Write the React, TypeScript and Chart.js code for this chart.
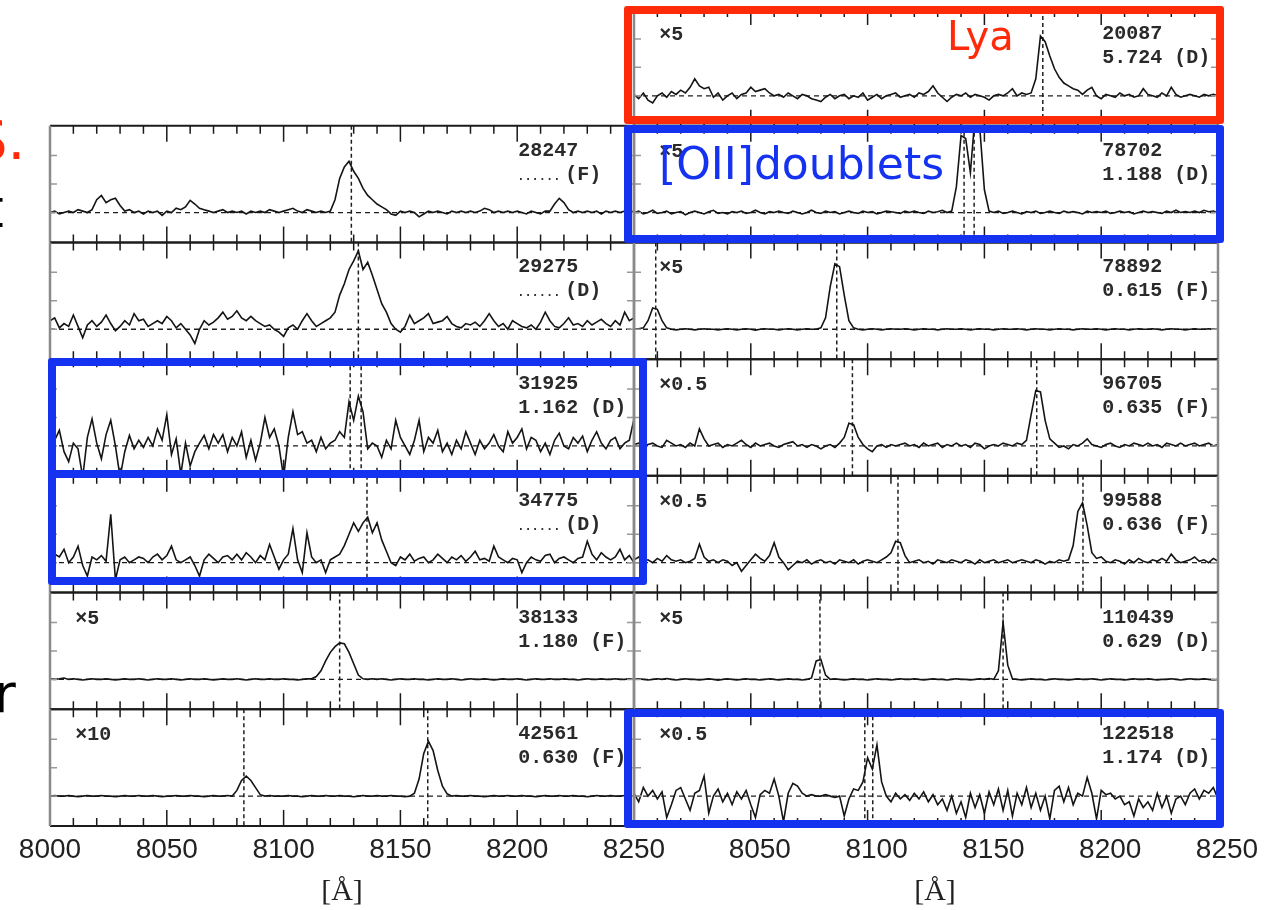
import React, { useEffect, useRef } from "react";
import { Chart, registerables } from "chart.js";

Chart.register(...registerables);

// Wavelength sampling of every spectrum (Angstrom)
const WAVELENGTH = [
  8000, 8002, 8004, 8006, 8008, 8010, 8012, 8014, 8016, 8018,
  8020, 8022, 8024, 8026, 8028, 8030, 8032, 8034, 8036, 8038,
  8040, 8042, 8044, 8046, 8048, 8050, 8052, 8054, 8056, 8058,
  8060, 8062, 8064, 8066, 8068, 8070, 8072, 8074, 8076, 8078,
  8080, 8082, 8084, 8086, 8088, 8090, 8092, 8094, 8096, 8098,
  8100, 8102, 8104, 8106, 8108, 8110, 8112, 8114, 8116, 8118,
  8120, 8122, 8124, 8126, 8128, 8130, 8132, 8134, 8136, 8138,
  8140, 8142, 8144, 8146, 8148, 8150, 8152, 8154, 8156, 8158,
  8160, 8162, 8164, 8166, 8168, 8170, 8172, 8174, 8176, 8178,
  8180, 8182, 8184, 8186, 8188, 8190, 8192, 8194, 8196, 8198,
  8200, 8202, 8204, 8206, 8208, 8210, 8212, 8214, 8216, 8218,
  8220, 8222, 8224, 8226, 8228, 8230, 8232, 8234, 8236, 8238,
  8240, 8242, 8244, 8246, 8248, 8250,
];

// Flux (arbitrary units, baseline = 0), one array per object
const FLUX_20087 = [
  0.05, -0.1, 0.1, -0.15, -0.25, 0.0, 0.1, -0.05, 0.15, 0.05,
  0.2, 0.1, 0.3, 0.6, 0.35, 0.25, 0.3, -0.05, 0.1, -0.15,
  0.0, 0.1, -0.1, 0.05, 0.1, 0.3, 0.15, 0.2, 0.25, 0.1,
  0.0, 0.05, -0.05, 0.1, 0.0, -0.1, 0.05, 0.0, -0.1, -0.15,
  -0.2, -0.05, 0.05, -0.1, 0.0, 0.05, -0.1, 0.0, -0.05, 0.1,
  -0.15, -0.05, 0.05, -0.1, 0.0, 0.05, 0.1, -0.05, 0.0, 0.05,
  -0.05, 0.1, 0.05, 0.15, 0.35, 0.1, -0.05, -0.2, -0.05, 0.05,
  0.0, 0.1, -0.05, 0.05, 0.0, -0.05, -0.15, 0.0, 0.05, 0.0,
  0.1, 0.25, 0.0, 0.1, 0.05, 0.1, 0.6, 2.1, 1.9, 1.4,
  0.95, 0.65, 0.45, 0.35, 0.25, 0.2, 0.05, 0.2, 0.3, 0.0,
  -0.1, 0.05, 0.0, -0.05, 0.1, 0.0, 0.05, -0.05, 0.0, 0.25,
  0.05, 0.0, -0.05, 0.1, 0.0, 0.3, 0.05, -0.05, 0.0, 0.05,
  0.0, -0.05, 0.05, 0.0, 0.05, 0.0,
];

const FLUX_78702 = [
  0.0, 0.05, -0.05, 0.0, 0.08, -0.03, 0.0, 0.05, -0.05, 0.0,
  0.03, -0.08, 0.0, 0.05, 0.0, -0.05, 0.03, 0.08, -0.03, 0.0,
  -0.05, 0.03, 0.0, 0.05, -0.03, 0.0, 0.08, 0.0, -0.05, 0.03,
  0.0, 0.05, 0.0, -0.03, 0.05, 0.0, -0.05, 0.0, 0.08, 0.0,
  -0.03, 0.05, 0.0, 0.03, -0.05, 0.0, 0.05, 0.0, -0.03, 0.05,
  0.0, 0.03, -0.05, 0.0, 0.05, 0.03, 0.0, -0.03, 0.05, 0.0,
  0.05, 0.0, -0.03, 0.05, 0.0, 0.03, 0.08, 0.0, 0.05, 0.9,
  2.7, 2.6, 1.4, 3.4, 3.0, 0.8, 0.05, 0.0, 0.05, -0.03,
  0.0, 0.05, 0.0, -0.05, 0.03, 0.0, 0.05, -0.03, 0.0, 0.05,
  0.0, -0.03, 0.05, 0.0, 0.03, 0.0, -0.05, 0.05, 0.0, 0.03,
  0.0, 0.05, -0.03, 0.0, 0.05, 0.0, 0.03, -0.05, 0.0, 0.05,
  0.0, 0.03, 0.0, -0.03, 0.05, 0.0, 0.08, 0.0, 0.03, 0.0,
  0.05, 0.0, 0.08, 0.03, 0.05, 0.0,
];

const FLUX_78892 = [
  0.0, 0.02, 0.05, 0.3, 0.75, 0.7, 0.3, 0.05, 0.0, -0.02,
  0.0, 0.02, 0.0, -0.02, 0.0, 0.02, 0.0, 0.0, -0.02, 0.0,
  0.02, 0.0, -0.02, 0.0, 0.02, 0.0, -0.03, 0.0, 0.02, 0.0,
  0.0, -0.02, 0.0, 0.02, 0.0, -0.02, 0.0, 0.02, 0.0, 0.0,
  0.05, 0.4, 1.5, 2.3, 2.2, 1.2, 0.3, 0.05, 0.0, -0.02,
  0.0, 0.02, 0.0, -0.02, 0.0, 0.02, 0.0, 0.0, 0.02, 0.0,
  -0.02, 0.0, 0.02, 0.0, 0.0, -0.02, 0.0, 0.02, 0.0, 0.0,
  0.02, 0.0, -0.02, 0.0, 0.02, 0.0, 0.0, -0.02, 0.0, 0.02,
  0.0, 0.0, 0.02, 0.0, -0.02, 0.0, 0.02, 0.0, 0.0, -0.02,
  0.0, 0.02, 0.0, 0.0, -0.02, 0.0, 0.02, 0.0, 0.0, 0.02,
  0.0, -0.02, 0.0, 0.02, 0.0, 0.0, -0.02, 0.0, 0.02, 0.0,
  0.0, 0.02, 0.0, -0.02, 0.0, 0.02, 0.0, 0.0, -0.02, 0.0,
  0.02, 0.0, 0.0, 0.02, 0.0, 0.0,
];

const FLUX_96705 = [
  0.05, 0.1, 0.0, 0.05, 0.1, 0.0, -0.05, 0.2, 0.1, 0.0,
  0.05, -0.05, 0.1, 0.0, 0.6, 0.25, 0.0, 0.05, 0.1, -0.05,
  0.05, 0.0, 0.1, 0.2, 0.05, -0.05, 0.1, 0.0, 0.05, 0.1,
  0.0, -0.05, 0.05, 0.1, 0.15, 0.0, 0.05, -0.05, 0.05, 0.0,
  -0.1, 0.0, 0.05, -0.05, 0.1, 0.3, 0.8, 0.75, 0.3, 0.05,
  -0.1, -0.2, 0.0, 0.05, -0.05, 0.05, 0.0, 0.05, 0.1, 0.0,
  0.05, -0.05, 0.1, 0.0, 0.05, 0.1, -0.05, 0.05, 0.0, 0.1,
  0.0, 0.05, -0.05, 0.1, 0.05, -0.1, 0.0, 0.05, 0.0, 0.1,
  0.05, 0.0, 0.1, 0.05, 0.2, 1.1, 1.95, 1.9, 0.9, 0.25,
  0.1, -0.05, 0.0, -0.1, 0.05, 0.0, 0.1, 0.25, 0.05, 0.0,
  -0.05, 0.05, 0.1, 0.0, -0.05, 0.05, 0.0, 0.1, 0.05, 0.0,
  0.1, 0.0, 0.05, -0.05, 0.1, 0.05, 0.0, 0.1, 0.0, 0.05,
  0.1, 0.0, 0.05, 0.1, 0.0, 0.05,
];

const FLUX_99588 = [
  0.1, 0.2, 0.05, 0.1, 0.0, 0.15, 0.05, 0.25, 0.1, 0.05,
  0.1, 0.0, 0.05, 0.15, 0.65, 0.2, 0.05, 0.1, 0.0, 0.1,
  0.05, -0.1, 0.0, -0.3, -0.1, 0.1, 0.3, 0.15, 0.05, 0.25,
  0.7, 0.2, 0.0, -0.25, -0.1, 0.05, 0.0, 0.1, -0.05, 0.05,
  0.1, 0.0, 0.05, -0.05, 0.1, 0.05, 0.0, 0.1, -0.05, 0.05,
  0.1, 0.05, 0.0, 0.1, 0.2, 0.35, 0.75, 0.7, 0.25, 0.0,
  0.05, 0.1, 0.0, 0.05, -0.05, 0.1, 0.05, 0.0, 0.1, 0.05,
  0.0, 0.1, 0.05, -0.05, 0.1, 0.0, 0.05, 0.1, 0.0, 0.05,
  0.1, 0.0, 0.05, 0.1, 0.05, 0.0, 0.1, 0.05, -0.05, 0.05,
  0.0, 0.1, 0.05, 0.1, 0.6, 1.8, 2.1, 1.3, 0.35, 0.15,
  0.2, 0.05, 0.0, 0.1, 0.05, -0.05, 0.1, 0.0, 0.15, 0.05,
  0.0, 0.1, 0.05, 0.15, 0.05, 0.3, 0.1, 0.0, 0.05, 0.1,
  0.2, 0.05, 0.1, 0.0, 0.15, 0.05,
];

const FLUX_110439 = [
  0.0, 0.02, 0.0, -0.02, 0.0, 0.02, 0.0, 0.03, 0.0, -0.02,
  0.0, 0.02, 0.0, 0.0, -0.02, 0.0, 0.02, 0.0, -0.03, 0.0,
  0.02, 0.0, -0.02, 0.0, 0.02, 0.0, 0.0, -0.02, 0.0, 0.02,
  0.0, -0.02, 0.0, 0.02, 0.0, 0.0, -0.02, 0.0, 0.05, 0.65,
  0.7, 0.15, 0.0, 0.02, 0.0, -0.02, 0.0, 0.02, 0.0, 0.0,
  -0.02, 0.0, 0.02, 0.0, 0.0, -0.02, 0.0, 0.02, 0.0, 0.0,
  0.02, 0.0, -0.02, 0.0, 0.02, 0.0, 0.0, -0.02, 0.0, 0.02,
  0.0, 0.0, -0.02, 0.0, 0.02, 0.0, 0.03, 0.0, 0.3, 2.0,
  0.5, 0.02, 0.0, -0.02, 0.0, 0.02, 0.0, 0.0, -0.02, 0.0,
  0.02, 0.0, 0.0, -0.02, 0.0, 0.02, 0.0, 0.0, 0.02, 0.0,
  -0.02, 0.0, 0.02, 0.0, 0.0, -0.02, 0.0, 0.02, 0.0, 0.0,
  0.02, 0.0, -0.02, 0.0, 0.0, 0.02, 0.0, -0.02, 0.0, 0.02,
  0.0, 0.0, 0.02, 0.0, -0.02, 0.0,
];

const FLUX_122518 = [
  0.1, -0.2, 0.3, 0.0, 0.2, -0.1, 0.15, -0.75, -0.3, 0.2,
  0.3, -0.1, -0.5, 0.1, 0.2, 0.7, -0.6, 0.0, 0.25, -0.2,
  0.1, -0.3, 0.15, -0.1, 0.2, -0.3, -0.75, 0.05, 0.2, 0.1,
  0.6, 0.0, -0.9, 0.1, 0.45, 0.35, 0.1, 0.0, 0.05, 0.0,
  0.0, 0.05, 0.0, -0.05, 0.0, -0.7, -0.1, 0.25, 0.2, 0.5,
  1.35, 0.95, 1.8, 0.5, 0.0, -0.2, 0.1, -0.1, 0.05, -0.15,
  0.1, -0.1, 0.15, -0.2, 0.05, -0.3, -0.1, -0.5, 0.0, -0.6,
  -0.2, -0.75, 0.1, -0.4, 0.05, -0.6, 0.15, -0.3, 0.25, -0.5,
  0.2, -0.7, 0.1, -0.3, 0.3, -0.4, 0.1, -0.5, 0.0, -0.8,
  0.2, 0.35, -0.2, 0.3, -0.3, 0.1, 0.0, 0.65, 0.1, -0.8,
  0.2, 0.05, 0.1, -0.1, 0.0, -0.3, -0.2, -0.7, -0.1, -0.4,
  -0.2, -0.5, 0.1, -0.4, 0.0, -0.6, -0.1, 0.0, -0.3, 0.1,
  0.25, -0.1, 0.2, 0.1, 0.3, -0.1,
];

const FLUX_28247 = [
  0.0, 0.05, -0.05, 0.0, 0.05, 0.0, 0.1, 0.05, 0.0, 0.1,
  0.45, 0.6, 0.35, 0.45, 0.5, 0.25, 0.05, 0.1, 0.0, 0.05,
  -0.05, 0.05, 0.0, 0.05, -0.1, 0.05, 0.0, 0.15, 0.1, 0.2,
  0.43, 0.3, 0.15, 0.1, 0.05, 0.0, 0.05, 0.1, 0.0, 0.05,
  0.0, 0.05, -0.05, 0.05, 0.0, 0.05, 0.0, 0.1, 0.05, 0.0,
  0.05, 0.1, 0.15, 0.05, 0.0, 0.1, 0.05, 0.0, 0.05, 0.0,
  0.05, 0.45, 1.2, 1.6, 1.8, 1.45, 1.2, 0.85, 0.6, 0.45,
  0.3, 0.2, 0.1, -0.05, -0.1, 0.05, 0.0, 0.05, 0.0, -0.15,
  -0.05, 0.05, 0.0, 0.05, 0.0, -0.05, 0.05, 0.0, 0.05, 0.0,
  0.05, 0.0, 0.05, 0.15, 0.1, 0.0, 0.05, 0.0, 0.05, 0.0,
  0.05, 0.0, -0.05, 0.05, 0.0, -0.05, 0.05, 0.05, 0.3, 0.5,
  0.35, 0.1, 0.0, 0.05, 0.0, 0.05, 0.0, 0.05, -0.05, 0.05,
  0.0, 0.05, 0.0, 0.05, 0.0, 0.05,
];

const FLUX_29275 = [
  0.3, 0.4, 0.05, 0.2, 0.1, 0.5, 0.1, -0.3, 0.15, 0.3,
  0.1, 0.25, 0.5, 0.2, -0.05, 0.1, 0.3, 0.15, 0.55, 0.3,
  0.35, 0.1, 0.2, 0.3, 0.2, 0.45, 0.3, 0.05, 0.2, 0.0,
  -0.2, -0.5, 0.0, 0.3, 0.15, 0.25, 0.4, 0.6, 0.35, 0.45,
  0.65, 0.4, 0.3, 0.45, 0.3, 0.2, 0.1, 0.15, 0.0, -0.1,
  -0.25, 0.05, 0.15, 0.0, 0.3, 0.55, 0.3, 0.1, 0.2, 0.3,
  0.4, 0.6, 1.2, 1.6, 2.1, 2.4, 2.75, 2.1, 2.35, 1.9,
  1.4, 0.9, 0.6, 0.2, 0.0, -0.1, 0.1, 0.5, 0.2, 0.3,
  0.4, 0.55, 0.2, 0.25, 0.3, 0.45, 0.2, 0.1, 0.05, 0.2,
  0.15, 0.25, 0.1, 0.3, 0.55, 0.3, 0.1, 0.2, 0.0, 0.3,
  0.2, 0.1, 0.05, 0.15, 0.0, 0.25, 0.6, 0.3, 0.1, 0.05,
  0.2, 0.4, 0.15, 0.2, 0.1, 0.3, 0.15, 0.25, 0.35, 0.2,
  0.1, 0.3, 0.15, 0.6, 0.3, 0.4,
];

const FLUX_31925 = [
  -0.3, 0.2, 0.55, -0.2, -0.55, 0.1, -0.1, -1.1, 0.3, 0.95,
  0.1, -0.45, 0.4, 0.9, 0.0, -1.1, -0.2, 0.37, -0.1, 0.2,
  -0.05, 0.3, 0.0, 0.6, 0.2, 1.1, -0.3, 0.25, -1.0, 0.1,
  -0.7, -0.2, 0.1, 0.37, -0.1, 0.4, 0.1, 0.4, -0.2, 0.3,
  0.0, 0.5, -0.4, 0.2, -0.5, 0.1, 1.0, 0.3, 0.6, 0.0,
  -1.1, 0.3, 1.2, 0.4, 0.5, 0.1, 0.2, -0.2, 0.3, -0.1,
  0.1, 0.2, 0.5, 0.3, 1.55, 0.9, 1.75, 1.2, -0.1, 0.1,
  0.0, -0.4, 0.2, -0.1, 0.9, 0.3, 0.0, -0.3, 0.2, 0.9,
  -0.2, 0.3, 0.1, 0.55, -0.2, 0.1, -0.3, 0.2, -0.1, 0.5,
  0.1, -0.3, 0.2, -0.1, 0.1, 0.4, 0.0, -0.2, 0.5, 0.1,
  0.3, 0.6, -0.1, 0.3, 0.2, -0.2, 0.1, -0.3, 0.2, 0.45,
  0.0, -0.1, 0.3, 0.1, 0.35, -0.2, 0.2, 0.5, 0.1, -0.1,
  0.2, 0.3, -0.1, 0.1, 0.2, 0.95,
];

const FLUX_34775 = [
  0.1, 0.3, 0.2, 0.47, 0.0, 0.2, 0.58, -0.1, -0.47, 0.2,
  0.1, 0.25, 0.05, 1.7, -0.6, 0.1, 0.2, 0.0, 0.1, 0.2,
  0.15, 0.0, 0.2, 0.3, 0.1, 0.25, 0.58, 0.1, 0.0, 0.1,
  0.2, -0.1, -0.47, 0.1, 0.3, 0.15, 0.0, 0.2, 0.25, 0.1,
  0.3, 0.1, 0.35, 0.2, 0.0, 0.25, 0.1, 0.64, 0.2, -0.23,
  0.1, 0.3, 1.2, 0.1, -0.35, 1.05, 0.2, 0.0, 0.1, -0.35,
  0.1, 0.2, 0.3, 0.6, 1.0, 1.4, 1.1, 1.4, 1.6, 1.05,
  1.4, 0.8, 0.4, 0.0, -0.1, 0.2, 0.1, 0.3, 0.05, 0.15,
  0.2, 0.0, 0.1, 0.3, 0.15, 0.0, 0.2, 0.1, 0.25, 0.05,
  0.2, 0.4, 0.1, 0.15, 0.05, 0.58, 0.2, 0.1, 0.0, 0.15,
  0.1, -0.35, 0.0, 0.2, 0.1, 0.05, 0.25, 0.3, 0.0, 0.15,
  0.2, 0.1, 0.0, 0.15, 0.2, 0.75, 0.3, 0.1, 0.35, 0.2,
  0.1, 0.2, 0.47, 0.1, 0.25, 0.0,
];

const FLUX_38133 = [
  0.02, 0.0, 0.02, 0.05, 0.0, 0.02, 0.0, -0.02, 0.0, 0.02,
  0.0, 0.0, 0.02, 0.0, -0.02, 0.0, 0.02, 0.0, 0.0, 0.02,
  0.0, -0.02, 0.0, 0.02, 0.0, 0.0, 0.02, 0.0, -0.02, 0.0,
  0.02, 0.0, 0.0, 0.02, 0.0, -0.02, 0.0, 0.02, 0.0, 0.0,
  0.02, 0.0, -0.02, 0.0, 0.02, 0.0, 0.0, 0.02, 0.0, 0.0,
  0.02, 0.0, 0.0, -0.02, 0.0, 0.02, 0.02, 0.1, 0.3, 0.65,
  0.95, 1.15, 1.28, 1.25, 0.95, 0.55, 0.15, 0.02, 0.0, 0.02,
  0.0, 0.02, 0.0, -0.02, 0.0, 0.02, 0.0, 0.0, 0.02, 0.0,
  0.0, -0.02, 0.0, 0.02, 0.0, 0.0, 0.02, 0.0, -0.02, 0.0,
  0.02, 0.0, 0.0, 0.02, 0.0, -0.02, 0.0, 0.02, 0.0, 0.0,
  0.02, 0.0, -0.02, 0.0, 0.02, 0.0, 0.0, 0.02, 0.0, 0.0,
  0.02, 0.0, 0.0, -0.02, 0.0, 0.02, 0.0, 0.0, 0.02, 0.0,
  0.0, 0.02, 0.0, 0.0, 0.02, 0.0,
];

const FLUX_42561 = [
  0.0, 0.02, 0.0, 0.0, 0.02, 0.0, -0.02, 0.0, 0.02, 0.0,
  0.0, 0.02, 0.0, 0.0, -0.02, 0.0, 0.02, 0.0, 0.0, 0.02,
  0.0, 0.0, 0.02, 0.0, -0.02, 0.0, 0.0, 0.02, 0.0, 0.0,
  0.02, 0.0, 0.0, -0.02, 0.0, 0.02, 0.0, 0.0, 0.02, 0.0,
  0.2, 0.55, 0.7, 0.55, 0.3, 0.05, 0.0, 0.02, 0.0, 0.0,
  0.0, 0.02, 0.0, 0.0, -0.02, 0.0, 0.02, 0.0, 0.0, 0.02,
  0.0, 0.0, 0.02, 0.0, 0.0, -0.02, 0.0, 0.02, 0.0, 0.0,
  0.02, 0.0, 0.0, 0.02, 0.0, 0.0, -0.02, 0.0, 0.1, 0.6,
  1.5, 1.93, 1.6, 0.9, 0.35, 0.08, 0.0, 0.02, 0.0, 0.0,
  0.02, 0.0, 0.0, -0.02, 0.0, 0.02, 0.0, 0.0, 0.02, 0.0,
  0.0, 0.02, 0.0, 0.0, -0.02, 0.0, 0.02, 0.0, 0.0, 0.02,
  0.0, 0.0, 0.02, 0.0, 0.0, -0.02, 0.0, 0.02, 0.0, 0.0,
  0.02, 0.0, 0.0, 0.02, 0.0, 0.0,
];

// Panel metadata
const PANEL_IDS = ["20087", "78702", "78892", "96705", "99588", "110439", "122518",
  "28247", "29275", "31925", "34775", "38133", "42561"];
const PANEL_Z = ["5.724 (D)", "1.188 (D)", "0.615 (F)", "0.635 (F)", "0.636 (F)", "0.629 (D)", "1.174 (D)",
  "...... (F)", "...... (D)", "1.162 (D)", "...... (D)", "1.180 (F)", "0.630 (F)"];
const PANEL_FACTOR = ["×5", "×5", "×5", "×0.5", "×0.5", "×5", "×0.5", "", "", "", "", "×5", "×10"];
const PANEL_COLUMN = [1, 1, 1, 1, 1, 1, 1, 0, 0, 0, 0, 0, 0];
const PANEL_ROW = [0, 1, 2, 3, 4, 5, 6, 1, 2, 3, 4, 5, 6];
const PANEL_LINES = [
  [8175], [8141.3, 8145.6], [8009.3, 8086.8], [8093.5, 8172.4], [8113, 8192.2], [8079.6, 8158],
  [8098.8, 8102.2], [8129], [8132], [8128.5, 8133.2], [8135.7], [8124], [8083, 8161.7],
];
const PANEL_FLUX = [FLUX_20087, FLUX_78702, FLUX_78892, FLUX_96705, FLUX_99588, FLUX_110439, FLUX_122518,
  FLUX_28247, FLUX_29275, FLUX_31925, FLUX_34775, FLUX_38133, FLUX_42561];

const X_MIN = 8000;
const X_MAX = 8250;
const Y_MIN = -1.05;
const Y_MAX = 3.05;
const X_TICKS = [8010, 8020, 8030, 8040, 8050, 8060, 8070, 8080, 8090, 8100, 8110, 8120,
  8130, 8140, 8150, 8160, 8170, 8180, 8190, 8200, 8210, 8220, 8230, 8240];
const X_MAJOR_TICKS = [8050, 8100, 8150, 8200];
const Y_TICKS = [0, 1, 2];
const LEFT_AXIS_LABELS = [8000, 8050, 8100, 8150, 8200, 8250];
const RIGHT_AXIS_LABELS = [8050, 8100, 8150, 8200, 8250];
const AXIS_TITLE = "[Å]";

const LABEL_FONT = 'bold 20px "Liberation Mono"';
const INK = "#141414";

function panelScales(chart: any, i: number) {
  const xs = chart.scales[PANEL_COLUMN[i] === 0 ? "xL" : "xR"];
  const ys = chart.scales["y" + PANEL_ROW[i]];
  return { xs, ys };
}

const spectraPlugin = {
  id: "spectraPanels",
  beforeDatasetsDraw(chart: any) {
    const ctx = chart.ctx;
    for (let i = 0; i < PANEL_IDS.length; i++) {
      const { xs, ys } = panelScales(chart, i);
      ctx.save();
      ctx.beginPath();
      ctx.rect(xs.left, ys.top, xs.right - xs.left, ys.bottom - ys.top);
      ctx.clip();
      ctx.strokeStyle = "#1e1e1e";
      ctx.lineWidth = 1.3;
      ctx.setLineDash([5, 4]);
      const y0 = ys.getPixelForValue(0);
      ctx.beginPath();
      ctx.moveTo(xs.left, y0);
      ctx.lineTo(xs.right, y0);
      ctx.stroke();
      ctx.lineWidth = 1.5;
      ctx.setLineDash([4, 3]);
      for (const w of PANEL_LINES[i]) {
        const x = xs.getPixelForValue(w);
        ctx.beginPath();
        ctx.moveTo(x, ys.top);
        ctx.lineTo(x, ys.bottom);
        ctx.stroke();
      }
      ctx.restore();
    }
  },
  beforeDatasetDraw(chart: any, args: any) {
    const { xs, ys } = panelScales(chart, args.index);
    const ctx = chart.ctx;
    ctx.save();
    ctx.beginPath();
    ctx.rect(xs.left, ys.top, xs.right - xs.left, ys.bottom - ys.top);
    ctx.clip();
  },
  afterDatasetDraw(chart: any) {
    chart.ctx.restore();
  },
  afterDatasetsDraw(chart: any) {
    const ctx = chart.ctx;
    for (let i = 0; i < PANEL_IDS.length; i++) {
      const { xs, ys } = panelScales(chart, i);
      const L = xs.left, R = xs.right, T = ys.top, B = ys.bottom;
      ctx.save();
      // x ticks (inward, top and bottom)
      ctx.strokeStyle = "#1a1a1a";
      ctx.lineWidth = 1.5;
      ctx.beginPath();
      for (const w of X_TICKS) {
        const x = xs.getPixelForValue(w);
        const len = X_MAJOR_TICKS.includes(w) ? 16 : 8;
        ctx.moveTo(x, T);
        ctx.lineTo(x, T + len);
        ctx.moveTo(x, B);
        ctx.lineTo(x, B - len);
      }
      ctx.stroke();
      // y ticks
      ctx.strokeStyle = "#999";
      ctx.beginPath();
      for (const v of Y_TICKS) {
        const y = ys.getPixelForValue(v);
        ctx.moveTo(L, y);
        ctx.lineTo(L + 7, y);
        ctx.moveTo(R, y);
        ctx.lineTo(R - 7, y);
      }
      ctx.stroke();
      // frame
      ctx.strokeStyle = "#1c1c1c";
      ctx.lineWidth = 2;
      ctx.beginPath();
      ctx.moveTo(L, T);
      ctx.lineTo(R, T);
      ctx.moveTo(L, B);
      ctx.lineTo(R, B);
      ctx.stroke();
      ctx.strokeStyle = "#8a8a8a";
      ctx.lineWidth = 2.5;
      ctx.beginPath();
      ctx.moveTo(L, T);
      ctx.lineTo(L, B);
      ctx.moveTo(R, T);
      ctx.lineTo(R, B);
      ctx.stroke();
      // labels
      ctx.fillStyle = "#2a2a2a";
      ctx.textBaseline = "alphabetic";
      ctx.textAlign = "left";
      ctx.font = LABEL_FONT;
      const lx = xs.getPixelForValue(8200) + 1;
      ctx.fillText(PANEL_IDS[i], lx, T + 30);
      const z = PANEL_Z[i];
      if (z.startsWith("......")) {
        ctx.font = 'bold 12px "Liberation Mono"';
        ctx.fillText("......", lx - 1, T + 54);
        ctx.font = LABEL_FONT;
        ctx.fillText(z.slice(6).trim(), lx + 47, T + 54);
      } else {
        ctx.fillText(z, lx, T + 54);
      }
      if (PANEL_FACTOR[i]) {
        ctx.font = LABEL_FONT;
        ctx.fillText(PANEL_FACTOR[i], xs.getPixelForValue(8010) + 2, T + 31);
      }
      ctx.restore();
    }
    // bottom axis labels
    const xL = chart.scales.xL;
    const xR = chart.scales.xR;
    ctx.save();
    ctx.fillStyle = "#222";
    ctx.textAlign = "center";
    ctx.textBaseline = "alphabetic";
    ctx.font = '28px "Liberation Sans"';
    for (const v of LEFT_AXIS_LABELS) ctx.fillText(String(v), xL.getPixelForValue(v), 858);
    for (const v of RIGHT_AXIS_LABELS) ctx.fillText(String(v), xR.getPixelForValue(v) + 9, 858);
    ctx.font = '30px "Liberation Serif"';
    ctx.fillText(AXIS_TITLE, (xL.left + xL.right) / 2, 900);
    ctx.fillText(AXIS_TITLE, (xR.left + xR.right) / 2 + 9, 900);
    ctx.restore();
  },
};

function buildScales() {
  const scales: any = {
    xL: { type: "linear", position: "bottom", stack: "cols", stackWeight: 1, min: X_MIN, max: X_MAX, display: false },
    xR: { type: "linear", position: "bottom", stack: "cols", stackWeight: 1, min: X_MIN, max: X_MAX, display: false },
  };
  for (let r = 0; r < 7; r++) {
    scales["y" + r] = {
      type: "linear", position: "right", stack: "rows", stackWeight: 1,
      min: Y_MIN, max: Y_MAX, display: false,
    };
  }
  return scales;
}

export default function App() {
  const canvasRef = useRef<HTMLCanvasElement | null>(null);

  useEffect(() => {
    const canvas = canvasRef.current;
    if (!canvas) return;
    const chart = new Chart(canvas, {
      type: "line",
      data: {
        datasets: PANEL_IDS.map((id, i) => ({
          label: id,
          data: WAVELENGTH.map((w, k) => ({ x: w, y: PANEL_FLUX[i][k] })),
          xAxisID: PANEL_COLUMN[i] === 0 ? "xL" : "xR",
          yAxisID: "y" + PANEL_ROW[i],
          borderColor: INK,
          borderWidth: 1.6,
          pointRadius: 0,
          tension: 0,
          fill: false,
        })),
      },
      options: {
        responsive: false,
        animation: false,
        devicePixelRatio: 1,
        events: [],
        layout: { padding: { left: 50, top: 9, right: 62, bottom: 84 } },
        plugins: {
          legend: { display: false },
          tooltip: { enabled: false },
          title: { display: false },
        },
        scales: buildScales(),
      },
      plugins: [spectraPlugin],
    } as any);
    return () => chart.destroy();
  }, []);

  const red = "#ff2a0a";
  const blue = "#1432f0";
  const box = (left: number, top: number, w: number, h: number, color: string) => ({
    position: "absolute" as const, left, top, width: w, height: h,
    border: `8px solid ${color}`, boxSizing: "border-box" as const, borderRadius: 3,
  });
  const txt = (left: number, top: number, size: number, color: string) => ({
    position: "absolute" as const, left, top, fontSize: size, lineHeight: `${size}px`,
    fontFamily: '"DejaVu Sans", sans-serif', color, whiteSpace: "nowrap" as const,
  });

  return (
    <div style={{ position: "absolute", left: 0, top: 0, width: 1280, height: 910, background: "#fff", overflow: "hidden" }}>
      <canvas ref={canvasRef} width={1280} height={910} style={{ position: "absolute", left: 0, top: 0, width: 1280, height: 910 }} />
      <div style={box(624, 6, 600, 118, red)} />
      <div style={box(624, 125, 600, 118, blue)} />
      <div style={box(48, 358, 599, 120, blue)} />
      <div style={box(48, 470, 599, 115, blue)} />
      <div style={box(624, 709, 600, 119, blue)} />
      <div style={txt(947, 16, 40, red)}>Lya</div>
      <div style={txt(659, 142, 44, blue)}>[OII]doublets</div>
      <div style={txt(-28, 112, 56, red)}>S.</div>
      <div style={txt(-17, 182, 53, "#000")}>t</div>
      <div style={txt(-6, 667, 53, "#000")}>r</div>
    </div>
  );
}
